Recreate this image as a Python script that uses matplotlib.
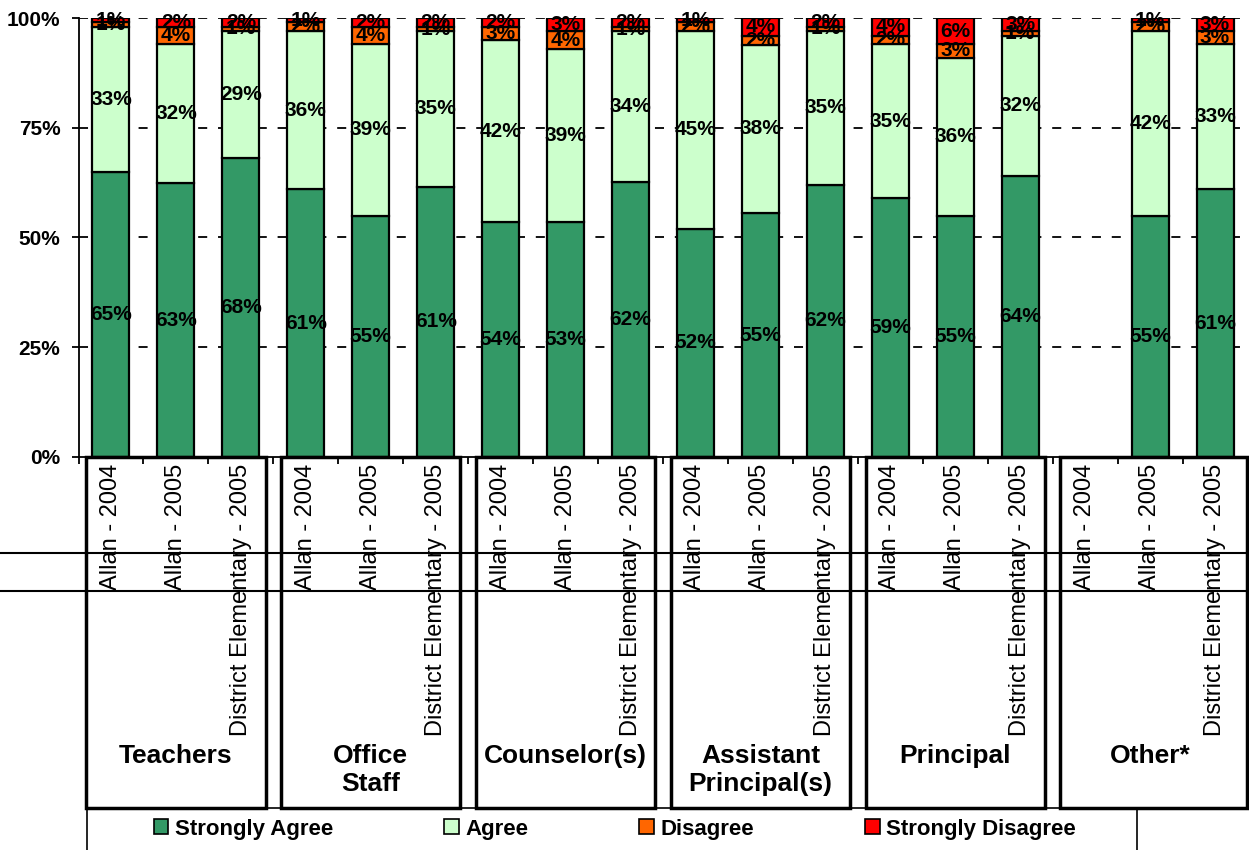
import matplotlib.pyplot as plt
import numpy as np
from matplotlib.patches import Rectangle
from matplotlib.lines import Line2D
from matplotlib.transforms import blended_transform_factory

plt.rcParams['font.family'] = ['Liberation Sans', 'DejaVu Sans']

groups = ['Teachers', 'Office\nStaff', 'Counselor(s)', 'Assistant\nPrincipal(s)', 'Principal', 'Other*']
bar_labels = ['Allan - 2004', 'Allan - 2005', 'District Elementary - 2005']
series = ['Strongly Agree', 'Agree', 'Disagree', 'Strongly Disagree']
colors = ['#339966', '#CCFFCC', '#FF6600', '#FF0000']

# values per bar, in order of groups x bar_labels
strongly_agree = [65, 63, 68, 61, 55, 61, 54, 53, 62, 52, 55, 62, 59, 55, 64, 0, 55, 61]
agree = [33, 32, 29, 36, 39, 35, 42, 39, 34, 45, 38, 35, 35, 36, 32, 0, 42, 33]
disagree = [1, 4, 1, 2, 4, 1, 3, 4, 1, 2, 2, 1, 2, 3, 1, 0, 2, 3]
strongly_disagree = [1, 2, 2, 1, 2, 2, 2, 3, 2, 1, 4, 2, 4, 6, 3, 0, 1, 3]

vals = np.array([strongly_agree, agree, disagree, strongly_disagree], dtype=float)
tot = vals.sum(axis=0)
tot[tot == 0] = 1
pct = vals / tot * 100

W, H = 1249, 850
fig = plt.figure(figsize=(W / 100, H / 100), dpi=100)
ax = fig.add_axes([78.5 / W, 1 - 457 / H, 1169 / W, 439 / H])

n = vals.shape[1]
x = np.arange(n)
ax.set_xlim(-0.5, n - 0.5)
ax.set_ylim(0, 100)

for yv in [25, 50, 75, 100]:
    ax.axhline(yv, color='black', lw=1.3, ls=(0, (5, 6)), zorder=1)

bottom = np.zeros(n)
for i in range(4):
    edges = ['black' if v > 0 else 'none' for v in vals[i]]
    ax.bar(x, pct[i], 0.57, bottom=bottom, color=colors[i], edgecolor=edges,
           linewidth=1.6, zorder=3, label=series[i])
    for j in range(n):
        if vals[i, j] > 0:
            ax.text(x[j], bottom[j] + pct[i, j] / 2, '%d%%' % vals[i, j], ha='center',
                    va='center', fontsize=15, fontweight='bold', zorder=5)
    bottom += pct[i]

ax.set_yticks([0, 25, 50, 75, 100])
ax.set_yticklabels(['0%', '25%', '50%', '75%', '100%'], fontsize=15, fontweight='bold')
ax.tick_params(axis='y', direction='out', length=5, width=1.3, pad=8)
ax.set_xticks(x)
ax.set_xticklabels(bar_labels * len(groups), rotation=90, fontsize=17)
ax.tick_params(axis='x', length=0, pad=5)
ax.set_xticks(np.arange(-0.5, n, 1), minor=True)
ax.tick_params(axis='x', which='minor', direction='out', length=5, width=1.3)
for s in ['top', 'right']:
    ax.spines[s].set_visible(False)
ax.spines['left'].set_linewidth(1.3)
ax.spines['bottom'].set_linewidth(1.3)

# group boxes and labels
tr = blended_transform_factory(ax.transData, fig.transFigure)
y_top = 1 - 457 / H
y_bot = 1 - 808 / H
for g, name in enumerate(groups):
    x0 = g * 3 - 0.5 + 0.12
    x1 = g * 3 + 2.5 - 0.12
    if g == len(groups) - 1:
        x1 = g * 3 + 2.5 - 0.01
    ax.add_patch(Rectangle((x0, y_bot), x1 - x0, y_top - y_bot, transform=tr, fill=False,
                           edgecolor='black', lw=2.5, clip_on=False, zorder=6))
    ax.text(g * 3 + 1, 1 - 744 / H, name, transform=tr, ha='center', va='top', fontsize=19,
            fontweight='bold', linespacing=1.2)

for yp in [553, 591]:
    fig.add_artist(Line2D([0, 1], [1 - yp / H] * 2, color='black', lw=1.5))

# legend
fig.add_artist(Rectangle((87 / W, -0.05), (1137 - 87) / W, 0.05 + 1 - 808 / H,
                         transform=fig.transFigure, fill=False, edgecolor='black', lw=1.2))
handles, labels = ax.get_legend_handles_labels()
leg = fig.legend(handles, labels, loc='center', bbox_to_anchor=(615 / W, 1 - 829 / H), ncol=4,
                 frameon=False, prop={'size': 16, 'weight': 'bold'}, handlelength=0.65,
                 handleheight=0.65, handletextpad=0.3, columnspacing=5.0)
for h in leg.legend_handles:
    h.set_linewidth(1.2)
    h.set_edgecolor('black')

fig.savefig('out.png', dpi=100)
